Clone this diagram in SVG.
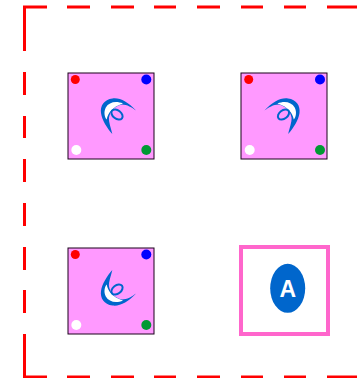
<svg xmlns="http://www.w3.org/2000/svg" width="357" height="378" viewBox="0 0 357 378">
<style>
.box{fill:#ff99ff;stroke:#1a001a;stroke-width:1}
.frame{fill:none;stroke:#ff0000;stroke-width:3}
.r{fill:#ff0000}.b{fill:#0000ff}.w{fill:#ffffff}.g{fill:#009933}
.label{font-family:"Liberation Sans",Arial,sans-serif;font-weight:bold;font-size:23px;fill:#ffffff;text-anchor:middle}
</style>
<defs>
<g id="glyph">
<path d="M136 110.500C128 102 120 97.500 112.500 98.500C104 99.500 100 106 101 113C102 120 107 128 112.300 134C111 128 108.500 122 109 117.500C110 112 114 106 122 104.500C127 104.500 132 107.500 136 110.500Z" fill="#0066cc"/>
<path d="M123 103.500C116 100.500 109 102 105.800 107.500C103.500 112 104.500 117 106.700 119.500C108 113 112 107 123 103.500Z" fill="#ffffff"/>
<ellipse cx="117" cy="114.500" rx="6.300" ry="4.200" transform="rotate(38 117 114.500)" fill="none" stroke="#0066cc" stroke-width="2"/>
</g>
</defs>
<g id="connectors">
<path class="frame" d="M24.500 51V7H47M67 7H90M111 7H134M154 7H176M197 7H220M241 7H263M284 7H306M327 7H357M24.500 72V95M24.500 116V138M24.500 159V182M24.500 203V226M24.500 247V270M24.500 290V313M24.500 334V377H47M67 377H90M111 377H134M154 377H176M197 377H220M241 377H263M284 377H306M327 377H357"/>
</g>
<g id="node-1">
<rect class="box" x="68" y="73" width="86" height="86"/>
<circle class="r" cx="75.300" cy="79.500" r="4.500"/><circle class="b" cx="146.300" cy="79.500" r="5"/><circle class="w" cx="76.300" cy="150" r="5"/><circle class="g" cx="146.300" cy="150" r="5"/>
<use href="#glyph"/>
</g>
<g id="node-2">
<rect class="box" x="241" y="73" width="86" height="86"/>
<circle class="r" cx="248.700" cy="79.500" r="4.500"/><circle class="b" cx="320" cy="79.500" r="5"/><circle class="w" cx="249.700" cy="150" r="5"/><circle class="g" cx="320" cy="150" r="5"/>
<use href="#glyph" transform="matrix(-1 0 0 1 400.500 0)"/>
</g>
<g id="node-3">
<rect class="box" x="68" y="248" width="86" height="86"/>
<circle class="r" cx="75.300" cy="254.500" r="4.500"/><circle class="b" cx="146.300" cy="254.500" r="5"/><circle class="w" cx="76.300" cy="325" r="5"/><circle class="g" cx="146.300" cy="325" r="5"/>
<use href="#glyph" transform="matrix(1 0 0 -1 0 404)"/>
</g>
<g id="node-4">
<rect x="241" y="247" width="87" height="87" fill="#ffffff" stroke="#ff66cc" stroke-width="4"/>
<ellipse cx="287.700" cy="288.300" rx="17.500" ry="24.500" fill="#0066cc"/>
<text class="label" x="287.700" y="296.500">A</text>
</g>
</svg>
